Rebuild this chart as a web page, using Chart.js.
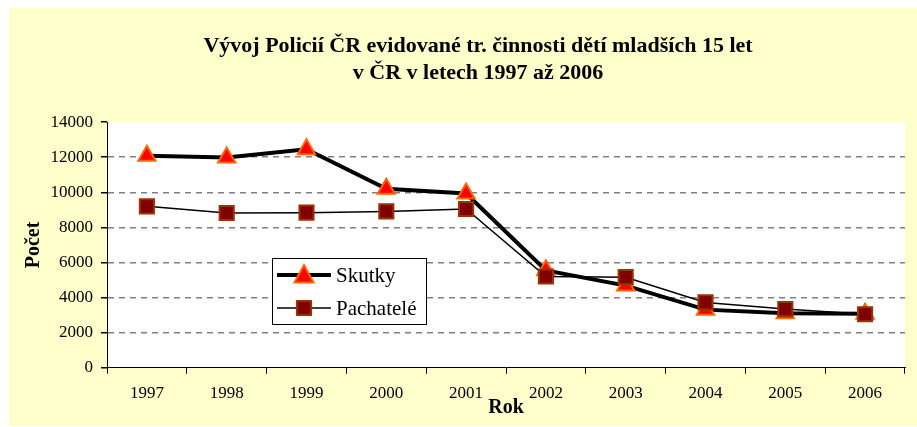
<!DOCTYPE html>
<html>
<head>
<meta charset="utf-8">
<script src="https://cdn.jsdelivr.net/npm/chart.js"></script>
<style>
  html, body { margin: 0; padding: 0; background: #ffffff; }
  #wrap { position: relative; width: 917px; height: 427px; }
  #bg { position: absolute; left: 9px; top: 8px; width: 908px; height: 418px; background: #ffffcc; }
  canvas { position: absolute; left: 0; top: 0; }
</style>
</head>
<body>
<div id="wrap">
  <div id="bg"></div>
  <canvas id="chart" width="917" height="427"></canvas>
</div>
<script>
const years = ['1997', '1998', '1999', '2000', '2001', '2002', '2003', '2004', '2005', '2006'];
const skutky = [12080, 11980, 12450, 10200, 9930, 5550, 4680, 3310, 3100, 3070];
const pachatele = [9200, 8820, 8840, 8910, 9050, 5200, 5160, 3720, 3340, 3050];
const seriesNames = ['Skutky', 'Pachatelé'];
const titleLines = ['Vývoj Policií ČR evidované tr. činnosti dětí mladších 15 let', 'v ČR v letech 1997 až 2006'];

const serif = "'Liberation Serif', 'Times New Roman', serif";

// white plot area
const plotBg = {
    id: 'plotBg',
    beforeDraw(chart) {
        const a = chart.chartArea;
        chart.ctx.save();
        chart.ctx.fillStyle = '#ffffff';
        chart.ctx.fillRect(a.left, a.top, a.right - a.left, a.bottom - a.top);
        chart.ctx.restore();
    }
};

function marker(ctx, ds, x, y) {
    ctx.save();
    ctx.fillStyle = ds.pointBackgroundColor;
    ctx.strokeStyle = ds.pointBorderColor;
    ctx.lineWidth = ds.pointBorderWidth;
    ctx.beginPath();
    const r = ds.pointRadius;
    if (ds.pointStyle === 'triangle') {
        ctx.moveTo(x, y - r);
        ctx.lineTo(x + r * 0.866 * 1.1, y + r * 0.75);
        ctx.lineTo(x - r * 0.866 * 1.1, y + r * 0.75);
        ctx.closePath();
    } else {
        const s = r * Math.SQRT1_2;
        ctx.rect(x - s, y - s, 2 * s, 2 * s);
    }
    ctx.fill();
    ctx.stroke();
    ctx.restore();
}

// legend box inside the plot
const boxLegend = {
    id: 'boxLegend',
    afterDraw(chart) {
        const ctx = chart.ctx;
        ctx.save();
        ctx.fillStyle = '#ffffff';
        ctx.fillRect(272, 258, 154, 66);
        ctx.strokeStyle = '#000000';
        ctx.lineWidth = 1;
        ctx.strokeRect(272.5, 258.5, 154, 66);
        const rows = [275, 308];
        chart.data.datasets.forEach((ds, i) => {
            const y = rows[i];
            ctx.strokeStyle = ds.borderColor;
            ctx.lineWidth = ds.borderWidth;
            ctx.beginPath();
            ctx.moveTo(277, y);
            ctx.lineTo(331, y);
            ctx.stroke();
            marker(ctx, ds, 304, y);
            ctx.fillStyle = '#000000';
            ctx.font = '21px ' + serif;
            ctx.textBaseline = 'middle';
            ctx.fillText(ds.label, 336, y + 1);
        });
        ctx.restore();
    }
};

new Chart(document.getElementById('chart'), {
    type: 'line',
    data: {
        labels: years,
        datasets: [{
            label: seriesNames[0],
            data: skutky,
            borderColor: '#000000',
            borderWidth: 4,
            pointStyle: 'triangle',
            pointRadius: 10,
            pointBackgroundColor: '#ff0000',
            pointBorderColor: '#ff6600',
            pointBorderWidth: 2,
            order: 1
        }, {
            label: seriesNames[1],
            data: pachatele,
            borderColor: '#000000',
            borderWidth: 1.5,
            pointStyle: 'rect',
            pointRadius: 10,
            pointBackgroundColor: '#800000',
            pointBorderColor: '#993300',
            pointBorderWidth: 2,
            order: 0
        }]
    },
    options: {
        responsive: false,
        animation: false,
        layout: { padding: { left: 43, right: 4, top: 0, bottom: 0 } },
        plugins: {
            legend: { display: false },
            tooltip: { enabled: false },
            title: {
                display: true,
                text: titleLines,
                color: '#000000',
                font: { family: serif, size: 22, weight: 'bold', lineHeight: 1.23 },
                padding: { top: 33, bottom: 35 }
            }
        },
        scales: {
            x: {
                offset: true,
                afterFit(scale) { scale.height = 59.3; },
                grid: { offset: true, drawOnChartArea: false, tickLength: 6, tickColor: '#000000' },
                border: { color: '#000000', width: 1 },
                ticks: { color: '#000000', padding: 10, font: { family: serif, size: 17 } },
                title: {
                    display: true, text: 'Rok', color: '#000000',
                    font: { family: serif, size: 20, weight: 'bold' },
                    padding: { top: 0, bottom: 7 }
                }
            },
            y: {
                min: 0,
                max: 14000,
                afterFit(scale) { scale.width = 64; },
                ticks: {
                    stepSize: 2000, color: '#000000', padding: 8,
                    font: { family: serif, size: 17 },
                    callback: v => String(v)
                },
                grid: {
                    tickLength: 6,
                    tickColor: '#000000',
                    lineWidth: 1.5,
                    color: ctx => (ctx.tick && (ctx.tick.value === 0 || ctx.tick.value === 14000)) ? 'rgba(0,0,0,0)' : '#808080'
                },
                border: { color: '#000000', width: 1, dash: [6, 5] },
                title: {
                    display: true, text: 'Počet', color: '#000000',
                    font: { family: serif, size: 20, weight: 'bold' },
                    padding: { top: -21, bottom: 0 }
                }
            }
        }
    },
    plugins: [plotBg, boxLegend]
});
</script>
</body>
</html>
